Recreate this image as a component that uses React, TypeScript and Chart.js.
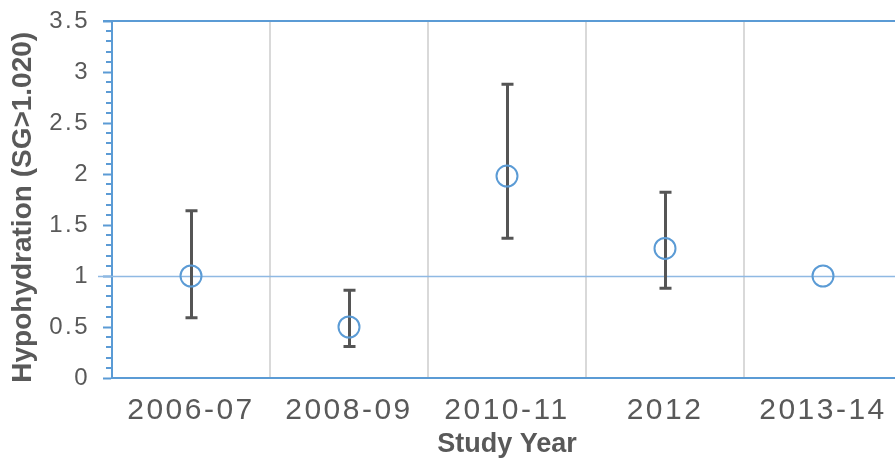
import React, { useEffect, useRef } from 'react';
import { Chart, registerables } from 'chart.js';

Chart.register(...registerables);

// Study periods and hypohydration rate (SG > 1.020) with confidence limits
const studyYears = ['2006-07', '2008-09', '2010-11', '2012', '2013-14'];
const hypohydration = [1.0, 0.5, 1.98, 1.27, 1.0];
const ciUpper: (number | null)[] = [1.64, 0.86, 2.88, 1.82, null];
const ciLower: (number | null)[] = [0.59, 0.31, 1.37, 0.88, null];
const referenceLevel = 1;
const yMin = 0;
const yMax = 3.5;
const yMajorStep = 0.5;
const yMinorStep = 0.1;

const AXIS_BLUE = '#5B9BD5';
const REF_BLUE = '#8FB9E3';
const TEXT_GRAY = '#595959';
const GRID_GRAY = '#D9D9D9';
const ERR_GRAY = '#555555';
const FONT = "'Liberation Sans', Arial, sans-serif";

const decorations = {
  id: 'decorations',
  beforeDatasetsDraw(chart: any) {
    const { ctx, chartArea, scales } = chart;
    const x = scales.x;
    const y = scales.y;
    ctx.save();
    // minor tick marks on the value axis
    ctx.strokeStyle = AXIS_BLUE;
    ctx.lineWidth = 2;
    const n = Math.round((yMax - yMin) / yMinorStep);
    for (let i = 0; i <= n; i++) {
      if (i % Math.round(yMajorStep / yMinorStep) === 0) continue;
      const py = Math.round(y.getPixelForValue(yMin + i * yMinorStep));
      ctx.beginPath();
      ctx.moveTo(chartArea.left - 6, py);
      ctx.lineTo(chartArea.left, py);
      ctx.stroke();
    }
    // reference level
    const ry = Math.round(y.getPixelForValue(referenceLevel)) + 0.5;
    ctx.strokeStyle = REF_BLUE;
    ctx.lineWidth = 1.5;
    ctx.beginPath();
    ctx.moveTo(chartArea.left - 14, ry);
    ctx.lineTo(chartArea.right, ry);
    ctx.stroke();
    // confidence intervals
    ctx.strokeStyle = ERR_GRAY;
    ctx.lineWidth = 3;
    hypohydration.forEach((_, i) => {
      const hi = ciUpper[i];
      const lo = ciLower[i];
      if (hi == null || lo == null) return;
      const px = Math.round(x.getPixelForValue(i)) + 0.5;
      const top = y.getPixelForValue(hi);
      const bottom = y.getPixelForValue(lo);
      ctx.beginPath();
      ctx.moveTo(px, top);
      ctx.lineTo(px, bottom);
      ctx.moveTo(px - 6, top);
      ctx.lineTo(px + 6, top);
      ctx.moveTo(px - 6, bottom);
      ctx.lineTo(px + 6, bottom);
      ctx.stroke();
    });
    ctx.restore();
  },
  afterDatasetsDraw(chart: any) {
    // tick labels drawn after this point are spaced out
    chart.ctx.letterSpacing = '2.5px';
  },
  afterDraw(chart: any) {
    const { ctx, chartArea, scales } = chart;
    ctx.letterSpacing = '0px';
    const ty = Math.round(scales.y.getPixelForValue(yMax));
    ctx.save();
    ctx.strokeStyle = AXIS_BLUE;
    ctx.lineWidth = 2;
    ctx.beginPath();
    ctx.moveTo(chartArea.left - 9, ty);
    ctx.lineTo(chartArea.right, ty);
    ctx.stroke();
    ctx.restore();
  },
};

export default function App() {
  const canvasRef = useRef<HTMLCanvasElement | null>(null);

  useEffect(() => {
    if (!canvasRef.current) return;
    const chart = new Chart(canvasRef.current, {
      type: 'line',
      data: {
        labels: studyYears,
        datasets: [
          {
            data: hypohydration,
            showLine: false,
            pointStyle: 'circle',
            pointRadius: 10.5,
            pointHoverRadius: 10.5,
            pointBorderWidth: 2,
            pointBorderColor: AXIS_BLUE,
            pointBackgroundColor: 'rgba(0,0,0,0)',
            borderColor: AXIS_BLUE,
            backgroundColor: 'rgba(0,0,0,0)',
          },
        ],
      },
      options: {
        responsive: false,
        animation: false,
        devicePixelRatio: 1,
        events: [],
        layout: { autoPadding: false, padding: { top: 21, right: 2, bottom: 0, left: 0 } },
        plugins: {
          legend: { display: false },
          tooltip: { enabled: false },
        },
        scales: {
          x: {
            type: 'category',
            offset: true,
            grid: {
              offset: true,
              drawTicks: false,
              lineWidth: 2,
              color: (c: any) => (c.index === 0 ? 'rgba(0,0,0,0)' : GRID_GRAY),
            },
            border: { color: AXIS_BLUE, width: 2 },
            ticks: {
              color: TEXT_GRAY,
              font: { family: FONT, size: 30 },
              padding: 15,
              autoSkip: false,
              maxRotation: 0,
              z: 1,
            },
            title: {
              display: true,
              text: 'Study Year',
              color: TEXT_GRAY,
              font: { family: FONT, size: 27, weight: 'bold' },
              padding: { top: 0, bottom: 15 },
            },
            afterFit: (s: any) => {
              s.height = 98;
              s.paddingLeft = 0;
              s.paddingRight = 0;
            },
          },
          y: {
            min: yMin,
            max: yMax,
            ticks: {
              stepSize: yMajorStep,
              callback: (v: any) => String(v),
              color: TEXT_GRAY,
              font: { family: FONT, size: 24 },
              padding: 13,
              z: 1,
            },
            grid: {
              drawOnChartArea: false,
              tickColor: AXIS_BLUE,
              tickLength: 9,
              tickWidth: 2,
            },
            border: { color: AXIS_BLUE, width: 2 },
            title: {
              display: true,
              text: 'Hypohydration (SG>1.020)  ',
              color: TEXT_GRAY,
              font: { family: FONT, size: 28, weight: 'bold' },
              padding: { top: 6, bottom: 0 },
            },
            afterFit: (s: any) => {
              s.width = 112;
              s.paddingTop = 0;
              s.paddingBottom = 0;
            },
          },
        },
      },
      plugins: [decorations],
    });
    return () => chart.destroy();
  }, []);

  return (
    <div
      style={{
        position: 'absolute',
        left: 0,
        top: 0,
        width: 895,
        height: 476,
        overflow: 'hidden',
        background: '#ffffff',
      }}
    >
      <canvas ref={canvasRef} width={904} height={476} style={{ width: 904, height: 476, display: 'block' }} />
    </div>
  );
}
